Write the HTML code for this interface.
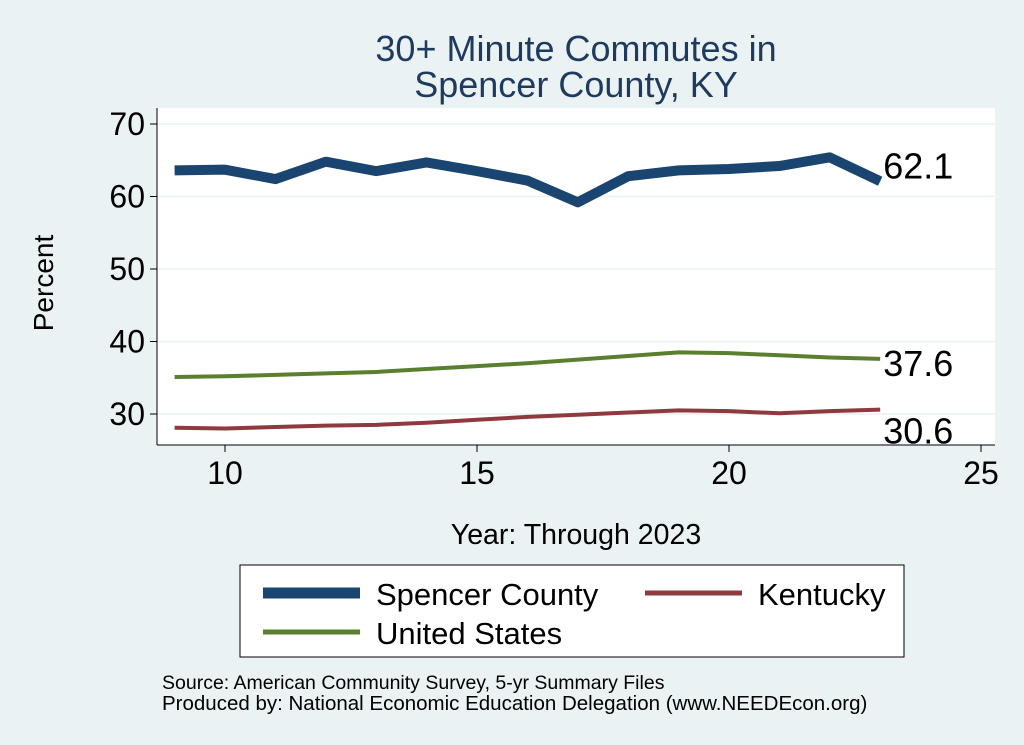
<!DOCTYPE html>
<html><head><meta charset="utf-8"><style>
body{margin:0;background:#eaf2f3;}
svg{display:block;font-family:"Liberation Sans",Arial,sans-serif;}
</style></head><body>
<svg width="1024" height="745" viewBox="0 0 1024 745">
<rect width="1024" height="745" fill="#eaf2f3"/>
<text x="576" y="61" font-size="36" fill="#1f3a5f" text-anchor="middle">30+ Minute Commutes in</text>
<text x="576" y="97" font-size="36" fill="#1f3a5f" text-anchor="middle">Spencer County, KY</text>
<rect x="157" y="108" width="838" height="337" fill="#fff"/>
<g id="grid"></g><g id="axes"></g><g id="series"></g>
<text x="53" y="283" font-size="28" text-anchor="middle" transform="rotate(-90 53 283)">Percent</text>
<text x="576" y="544" font-size="28.5" text-anchor="middle">Year: Through 2023</text>
<g>
<rect x="240" y="565" width="664" height="92" fill="#fff" stroke="#000" stroke-width="1"/>
<line x1="263" y1="593" x2="360" y2="593" stroke="#1a4571" stroke-width="11"/>
<text x="376" y="605" font-size="31">Spencer County</text>
<line x1="645" y1="593" x2="742" y2="593" stroke="#8f3a3e" stroke-width="5"/>
<text x="758" y="605" font-size="31">Kentucky</text>
<line x1="263" y1="632" x2="360" y2="632" stroke="#5a7f2f" stroke-width="5"/>
<text x="376" y="644" font-size="31">United States</text>
</g>
<text x="162" y="689" font-size="19.5">Source: American Community Survey, 5-yr Summary Files</text>
<text x="162" y="710" font-size="20.5">Produced by: National Economic Education Delegation (www.NEEDEcon.org)</text>
</svg>
<script>
const years=[9,10,11,12,13,14,15,16,17,18,19,20,21,22,23];
const spencer=[63.6,63.7,62.4,64.8,63.5,64.7,63.5,62.2,59.2,62.8,63.6,63.8,64.2,65.4,62.1];
const us=[35.1,35.2,35.4,35.6,35.8,36.2,36.6,37.0,37.5,38.0,38.5,38.4,38.1,37.8,37.6];
const kentucky=[28.1,28.0,28.2,28.4,28.5,28.8,29.2,29.6,29.9,30.2,30.5,30.4,30.1,30.4,30.6];
const yTicks=[30,40,50,60,70];
const xTicks=[10,15,20,25];
const NS="http://www.w3.org/2000/svg";
const xs=v=>225+(v-10)*50.4;
const ys=v=>124+(70-v)*7.25;
function mk(tag,attrs,parent){const e=document.createElementNS(NS,tag);for(const k in attrs)e.setAttribute(k,attrs[k]);parent.appendChild(e);return e;}
const grid=document.getElementById('grid'),axes=document.getElementById('axes'),ser=document.getElementById('series');
yTicks.forEach(t=>{
 const g=mk('line',{x1:157,x2:995,y1:ys(t),y2:ys(t),stroke:'#eaf2f3','stroke-width':1.5},grid);
 
 
 const tk=mk('line',{x1:150,x2:157,y1:ys(t),y2:ys(t),stroke:'#000'},axes);
 
 
 const tx=mk('text',{x:145,y:ys(t)+11,'font-size':32,'text-anchor':'end'},axes);tx.textContent=t;
 
 
});
xTicks.forEach(t=>{
 const tk=mk('line',{x1:xs(t),x2:xs(t),y1:445,y2:452,stroke:'#000'},axes);
 
 
 const tx=mk('text',{x:xs(t),y:484,'font-size':32,'text-anchor':'middle'},axes);tx.textContent=t;
 
 
});
const ya=mk('line',{x1:157,x2:157,y1:108,y2:445,stroke:'#000'},axes);


const xa=mk('line',{x1:157,x2:995,y1:445,y2:445,stroke:'#000'},axes);


function line(vals,color,w,name,labelDy){
 const d=vals.map((v,i)=>(i?'L':'M')+xs(years[i])+','+ys(v)).join(' ');
 const p=mk('path',{d:d,fill:'none',stroke:color,'stroke-width':w,'stroke-linejoin':'round'},ser);
 
 
 const last=vals[vals.length-1];
 const t=mk('text',{x:xs(years[years.length-1])+3,y:ys(last)+labelDy,'font-size':36},ser);
 t.textContent=last.toFixed(1);
 
 
}
line(kentucky,'#8f3a3e',4,'kentucky',34);
line(us,'#5a7f2f',4,'us',17);
line(spencer,'#1a4571',10,'spencer',-3);
</script>
</body></html>
